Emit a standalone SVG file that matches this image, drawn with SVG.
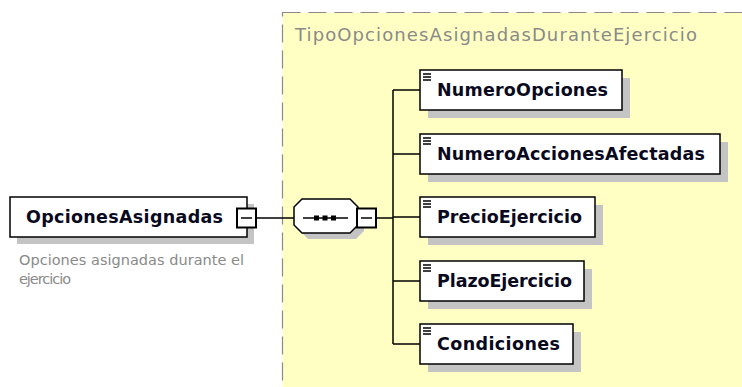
<svg xmlns="http://www.w3.org/2000/svg" width="742" height="387" viewBox="0 0 742 387">
<style>
.bg{fill:#ffffff}
.type{fill:#ffffc4;stroke:#8a8a8a;stroke-width:1.2;stroke-dasharray:18 8}
.shadow{fill:#c4c4c4}
.box{fill:#ffffff;stroke:#000000;stroke-width:1.5}
.minus{fill:#ffffff;stroke:#000000;stroke-width:2}
.line{stroke:#000000;stroke-width:1.5;fill:none}
.name{font-family:"DejaVu Sans",Verdana,sans-serif;font-weight:bold;font-size:17.5px;fill:#0a0a1e}
.title{font-family:"DejaVu Sans",Verdana,sans-serif;font-size:18px;fill:#8a8a8a}
.desc{font-family:"DejaVu Sans",Verdana,sans-serif;font-size:14.5px;fill:#8a8a8a}
.icon{stroke:#000000;stroke-width:1.3}
</style>
<rect class="bg" x="0" y="0" width="742" height="387"/>
<g id="TipoOpcionesAsignadasDuranteEjercicio">
<rect class="type" x="282.5" y="12.5" width="470" height="390"/>
<text class="title" x="295" y="41" textLength="402" lengthAdjust="spacing">TipoOpcionesAsignadasDuranteEjercicio</text>
</g>
<g id="connectors">
<line class="line" x1="256" y1="218" x2="294" y2="218"/>
<line class="line" x1="377" y1="218" x2="393" y2="218"/>
<line class="line" x1="393" y1="90" x2="393" y2="344"/>
<line class="line" x1="393" y1="90" x2="420" y2="90"/>
<line class="line" x1="393" y1="154" x2="420" y2="154"/>
<line class="line" x1="393" y1="217" x2="420" y2="217"/>
<line class="line" x1="393" y1="281" x2="420" y2="281"/>
<line class="line" x1="393" y1="344" x2="420" y2="344"/>
</g>
<g id="OpcionesAsignadas">
<rect class="shadow" x="17" y="204" width="237" height="40"/>
<rect class="box" x="10" y="197" width="237" height="40"/>
<text class="name" x="26" y="223" textLength="197" lengthAdjust="spacing">OpcionesAsignadas</text>
<rect class="minus" x="237" y="208.5" width="19" height="19"/>
<line class="line" x1="241" y1="218" x2="252" y2="218"/>
<text class="desc" x="19" y="265" textLength="225" lengthAdjust="spacing">Opciones asignadas durante el</text>
<text class="desc" x="19" y="284" textLength="52" lengthAdjust="spacing">ejercicio</text>
</g>
<g id="sequence">
<path class="shadow" d="M308,205 H356 L364,213 V231 L356,239 H308 L300,231 V213 Z"/>
<path class="box" d="M302,199 H350 L358,207 V225 L350,233 H302 L294,225 V207 Z"/>
<line class="line" x1="303" y1="218" x2="348" y2="218"/>
<rect x="314" y="215.5" width="5" height="5" fill="#000"/>
<rect x="322.5" y="215.5" width="5" height="5" fill="#000"/>
<rect x="331" y="215.5" width="5" height="5" fill="#000"/>
<rect class="minus" x="357" y="208.5" width="19" height="19"/>
<line class="line" x1="361" y1="218" x2="372" y2="218"/>
</g>
<g id="NumeroOpciones">
<rect class="shadow" x="428" y="78" width="202" height="40"/>
<rect class="box" x="420" y="70" width="202" height="40"/>
<path class="icon" d="M423,74H431M423,77H431M423,80H431"/>
<text class="name" x="437" y="96" textLength="171" lengthAdjust="spacing">NumeroOpciones</text>
</g>
<g id="NumeroAccionesAfectadas">
<rect class="shadow" x="428" y="142" width="300" height="40"/>
<rect class="box" x="420" y="134" width="300" height="40"/>
<path class="icon" d="M423,138H431M423,141H431M423,144H431"/>
<text class="name" x="437" y="160" textLength="268" lengthAdjust="spacing">NumeroAccionesAfectadas</text>
</g>
<g id="PrecioEjercicio">
<rect class="shadow" x="428" y="205" width="175" height="40"/>
<rect class="box" x="420" y="197" width="175" height="40"/>
<path class="icon" d="M423,201H431M423,204H431M423,207H431"/>
<text class="name" x="437" y="223" textLength="145" lengthAdjust="spacing">PrecioEjercicio</text>
</g>
<g id="PlazoEjercicio">
<rect class="shadow" x="428" y="269" width="164" height="40"/>
<rect class="box" x="420" y="261" width="164" height="40"/>
<path class="icon" d="M423,265H431M423,268H431M423,271H431"/>
<text class="name" x="437" y="287" textLength="135" lengthAdjust="spacing">PlazoEjercicio</text>
</g>
<g id="Condiciones">
<rect class="shadow" x="428" y="332" width="153" height="40"/>
<rect class="box" x="420" y="324" width="153" height="40"/>
<path class="icon" d="M423,328H431M423,331H431M423,334H431"/>
<text class="name" x="437" y="350" textLength="123" lengthAdjust="spacing">Condiciones</text>
</g>
</svg>
